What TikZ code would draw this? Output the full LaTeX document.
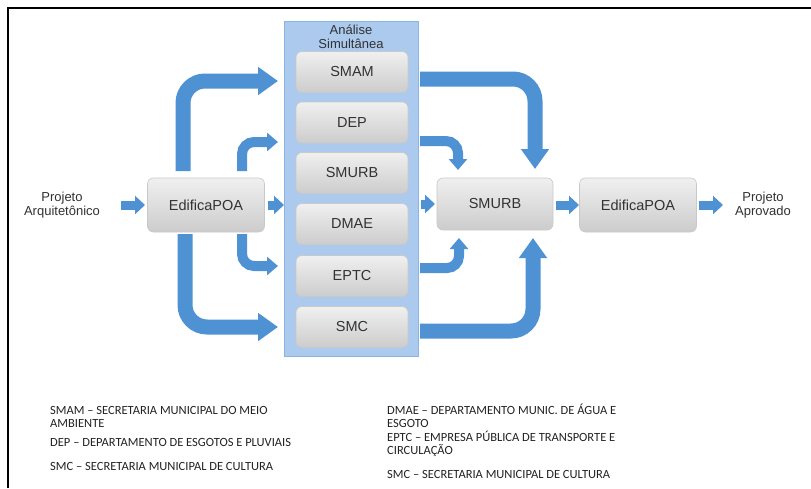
\documentclass[tikz,border=0pt]{standalone}
\usepackage{fontspec}
\setmainfont{Liberation Sans}
\newfontfamily\legendfont{Carlito}
\usetikzlibrary{arrows.meta}
\definecolor{arrowblue}{RGB}{79,146,212}
\definecolor{panelblue}{RGB}{172,202,238}
\definecolor{paneledge}{RGB}{140,180,226}
\definecolor{txt}{RGB}{50,50,50}
\definecolor{legtxt}{RGB}{35,35,35}
\begin{document}
\begin{tikzpicture}[x=1pt,y=-1pt,
  graybox/.style={rounded corners=6pt, top color=gray!12, bottom color=gray!40,
    draw=gray!42, line width=0.6pt, minimum width=112pt, minimum height=41pt,
    inner sep=0pt, font=\fontsize{14.5}{16}\selectfont, text=txt},
  bigbox/.style={graybox, minimum width=117pt, minimum height=54pt},
  lbl/.style={align=center, font=\fontsize{13}{14}\selectfont, text=txt, inner sep=0pt},
  legend/.style={anchor=base west, inner sep=0pt, font=\legendfont\fontsize{12.5}{13}\selectfont, text=legtxt},
  straightflow/.style={draw=arrowblue, line width=9pt, -{Triangle[width=18pt,length=10pt]}},
  bigflow/.style={draw=arrowblue, line width=15pt, rounded corners=22pt, -{Triangle[width=27pt,length=20pt]}},
  smallflow/.style={draw=arrowblue, line width=10pt, rounded corners=12pt, -{Triangle[width=18pt,length=11pt]}}
]
\useasboundingbox (0,0) rectangle (811,488);
\fill[white] (0,0) rectangle (811,488);
\draw[black, line width=2pt] (8,488) -- (8,7.5) -- (811,7.5);

% panel
\node[draw=paneledge, fill=panelblue, line width=1pt, minimum width=134pt, minimum height=335pt, inner sep=0pt] (panel) at (351,188.5) {};
\node[lbl] (title) at (351,37) {Análise\\Simultânea};

% boxes in panel
\node[graybox] (smam) at (352,72) {SMAM};
\node[graybox] (dep) at (352,122.5) {DEP};
\node[graybox] (smurbA) at (352,173) {SMURB};
\node[graybox] (dmae) at (352,224) {DMAE};
\node[graybox] (eptc) at (352,276) {EPTC};
\node[graybox] (smc) at (352,327) {SMC};

% main row
\node[lbl] (proj) at (62,205) {Projeto\\Arquitetônico};
\node[bigbox] (ed1) at (206,205) {EdificaPOA};
\node[bigbox, minimum width=116pt, minimum height=52pt] (smurb) at (495,204) {SMURB};
\node[bigbox] (ed2) at (638,205) {EdificaPOA};
\node[lbl] (aprov) at (763,205) {Projeto\\Aprovado};

% straight arrows
\draw[straightflow] (121,0 |- proj.east) -- (145,0 |- ed1.west);
\draw[straightflow] (268,0 |- ed1.east) -- (284,0 |- ed1.east);
\draw[straightflow] (421,0 |- smurb.west) -- (435,0 |- smurb.west);
\draw[straightflow] (556,0 |- ed2.west) -- (579,0 |- ed2.west);
\draw[straightflow] (699,0 |- ed2.east) -- (723,0 |- ed2.east);

% left curved arrows
\coordinate (a1s) at (183,171);
\coordinate (a1e) at (278,81);
\coordinate (a2s) at (242,171);
\coordinate (a2e) at (278,142);
\coordinate (a3s) at (242,234);
\coordinate (a3e) at (278,266);
\coordinate (a4s) at (185,234);
\coordinate (a4e) at (278,327);
\draw[bigflow] (a1s) |- (a1e);
\draw[smallflow] (a2s) |- (a2e);
\draw[smallflow] (a3s) |- (a3e);
\draw[bigflow] (a4s) |- (a4e);

% right curved arrows
\coordinate (b1s) at (420,79);
\coordinate (b1e) at (535,169);
\coordinate (b2s) at (420,141);
\coordinate (b2e) at (458,170);
\coordinate (b3s) at (420,268);
\coordinate (b3e) at (459,238);
\coordinate (b4s) at (420,331);
\coordinate (b4e) at (533,238);
\draw[bigflow] (b1s) -| (b1e);
\draw[smallflow] (b2s) -| (b2e);
\draw[smallflow] (b3s) -| (b3e);
\draw[bigflow] (b4s) -| (b4e);

% legend
\node[legend] (l1) at (50,414) {SMAM – SECRETARIA MUNICIPAL DO MEIO};
\node[legend] (l2) at (50,427) {AMBIENTE};
\node[legend] (l3) at (50,446) {DEP – DEPARTAMENTO DE ESGOTOS E PLUVIAIS};
\node[legend] (l4) at (50,470) {SMC – SECRETARIA MUNICIPAL DE CULTURA};
\node[legend] (r1) at (387,414) {DMAE – DEPARTAMENTO MUNIC. DE ÁGUA E};
\node[legend] (r2) at (387,427) {ESGOTO};
\node[legend] (r3) at (387,441) {EPTC – EMPRESA PÚBLICA DE TRANSPORTE E};
\node[legend] (r4) at (387,454) {CIRCULAÇÃO};
\node[legend] (r5) at (387,478) {SMC – SECRETARIA MUNICIPAL DE CULTURA};
\end{tikzpicture}
\end{document}
